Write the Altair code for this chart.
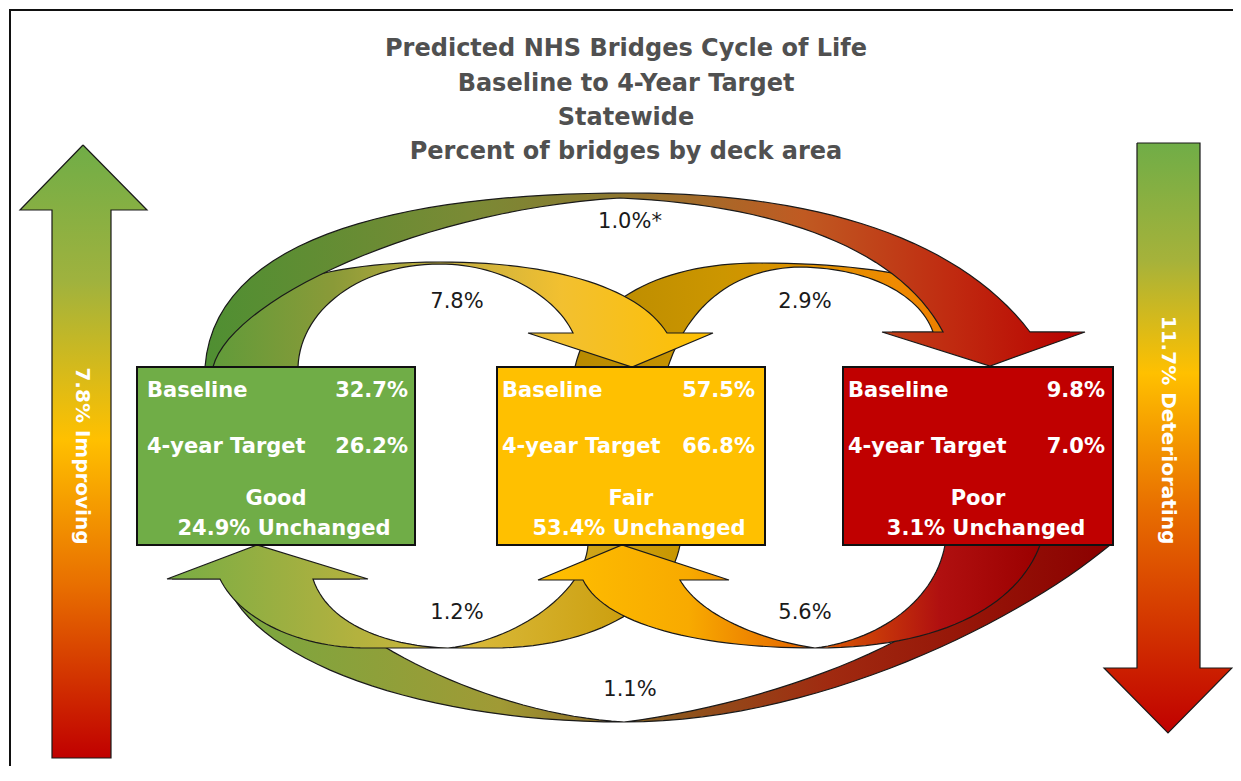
import altair as alt
import pandas as pd

# ---------------- data ----------------
title_lines = ["Predicted NHS Bridges Cycle of Life", "Baseline to 4-Year Target",
               "Statewide", "Percent of bridges by deck area"]
categories = ["Good", "Fair", "Poor"]
baseline_pct = [32.7, 57.5, 9.8]
target_pct = [26.2, 66.8, 7.0]
unchanged_pct = [24.9, 53.4, 3.1]
flow_from = ["Good", "Fair", "Good", "Fair", "Poor", "Poor"]
flow_to = ["Fair", "Poor", "Poor", "Good", "Fair", "Good"]
flow_pct = [7.8, 2.9, 1.0, 1.2, 5.6, 1.1]
flow_note = ["", "", "*", "", "", ""]
improving_pct = 7.8
deteriorating_pct = 11.7

# ---------------- layout (diagram geometry, reference pixel space) ----------------
cat_colors = ["#70ad47", "#ffc000", "#c00000"]
box_x0 = [137, 497, 843]
box_x1 = [415, 765, 1113]
box_top, box_bot = 367, 545
text_pad_l = [10, 5, 5]
text_pad_r = [7, 10, 8]
title_y = [49, 84, 118, 152]
flow_label_xy = [(457, 302), (805, 302), (630, 222), (457, 613), (805, 613), (630, 690)]

XD = [8, 1233]
YD = [8, 766]
X = alt.X("x:Q", scale=alt.Scale(domain=XD, nice=False, zero=False), axis=None)
Y = alt.Y("y:Q", scale=alt.Scale(domain=YD, nice=False, zero=False, reverse=True), axis=None)
FONT = "DejaVu Sans"


def bez(p0, p1, p2, p3, n=30):
    pts = []
    for k in range(n + 1):
        t = k / n
        u = 1 - t
        pts.append((u ** 3 * p0[0] + 3 * u * u * t * p1[0] + 3 * u * t * t * p2[0] + t ** 3 * p3[0],
                    u ** 3 * p0[1] + 3 * u * u * t * p1[1] + 3 * u * t * t * p2[1] + t ** 3 * p3[1]))
    return pts


def chain(segs):
    out = []
    for s in segs:
        pts = bez(*s)
        out.extend(pts if not out else pts[1:])
    return out


def grad(stops, vertical=False):
    return alt.LinearGradient(
        gradient="linear",
        stops=[alt.GradientStop(color=c, offset=o) for o, c in stops],
        x1=0, y1=0, x2=0 if vertical else 1, y2=1 if vertical else 0)


def poly(pts, fill, stroke="#1a1a1a", sw=1.2):
    pts = list(pts) + [pts[0]]
    df = pd.DataFrame({"x": [p[0] for p in pts], "y": [p[1] for p in pts], "i": list(range(len(pts)))})
    return alt.Chart(df).mark_line(filled=True, fill=fill, stroke=stroke, strokeWidth=sw,
                                   strokeJoin="miter", interpolate="linear").encode(
        x=X, y=Y, order="i:Q")


def upper_arrow(outer, inner, head):
    o = chain(outer)
    i = chain(inner)
    return o + list(head) + i[::-1]


def lower_arrow(inner, head, outer):
    return chain(inner) + list(head) + chain(outer)


shapes = {}
# 7.8% Good -> Fair (top)
shapes[0] = upper_arrow(
    [((207, 367), (212, 300), (300, 262), (440, 262)), ((440, 262), (560, 262), (640, 290), (667, 333))],
    [((298, 367), (300, 310), (360, 264), (440, 264)), ((440, 264), (500, 264), (555, 295), (573, 333))],
    [(713, 333), (632, 367), (528, 333)])
# 2.9% Fair -> Poor (top)
shapes[1] = upper_arrow(
    [((575, 367), (590, 300), (660, 263), (760, 263)), ((760, 263), (900, 263), (995, 290), (1020, 332))],
    [((668, 367), (690, 300), (740, 268), (800, 267)), ((800, 267), (870, 268), (920, 295), (933, 332))],
    [(1070, 332), (988, 364), (892, 332)])
# 1.0% Good -> Poor (top, outer)
shapes[2] = upper_arrow(
    [((205, 367), (215, 230), (420, 193), (630, 193)), ((630, 193), (820, 193), (960, 240), (1030, 332))],
    [((213, 367), (230, 300), (420, 210), (620, 198)), ((620, 198), (780, 205), (900, 250), (943, 332))],
    [(1085, 332), (990, 366), (882, 332)])
# 1.2% Fair -> Good (bottom)
shapes[3] = lower_arrow(
    [((588, 545), (585, 590), (520, 640), (448, 648)), ((448, 648), (400, 647), (330, 630), (313, 579))],
    [(368, 579), (257, 545), (167, 579)],
    [((220, 579), (240, 620), (300, 648), (367, 648)), ((367, 648), (410, 648), (450, 648), (492, 648)),
     ((492, 648), (600, 648), (670, 600), (680, 545))])
# 5.6% Poor -> Fair (bottom)
shapes[4] = lower_arrow(
    [((945, 545), (935, 600), (880, 640), (815, 648)), ((815, 648), (760, 640), (700, 615), (680, 580))],
    [(729, 580), (622, 545), (538, 580)],
    [((583, 580), (605, 625), (700, 648), (815, 648)), ((815, 648), (950, 648), (1020, 600), (1040, 545))])
# 1.1% Poor -> Good (bottom, outer)
shapes[5] = lower_arrow(
    [((1000, 545), (985, 620), (790, 702), (624, 722)), ((624, 722), (500, 715), (360, 650), (300, 579))],
    [(360, 579), (257, 547), (172, 579)],
    [((225, 579), (250, 660), (420, 722), (624, 722)), ((624, 722), (820, 722), (1020, 620), (1110, 545))])

flow_grads = {
    0: grad([(0, "#5f9b3a"), (0.25, "#8a9a38"), (0.5, "#c8b040"), (0.7, "#f2c030"), (1, "#ffc000")]),
    1: grad([(0, "#b88a00"), (0.3, "#cc9600"), (0.65, "#f08a00"), (1, "#e06000")]),
    2: grad([(0, "#4f8f32"), (0.3, "#7a8a35"), (0.45, "#8a7a30"), (0.68, "#c05a22"), (0.85, "#c02a10"), (1, "#b80000")]),
    3: grad([(0, "#78ad44"), (0.3, "#a8b040"), (0.6, "#d8b838"), (1, "#c89600")]),
    4: grad([(0, "#ffc000"), (0.3, "#f8aa00"), (0.5, "#e87000"), (0.8, "#b01010"), (1, "#9b0000")]),
    5: grad([(0, "#70aa42"), (0.35, "#a09a35"), (0.5, "#8a6020"), (0.7, "#a02a10"), (1, "#8b0000")]),
}

layers = []

# frame (left and top edges)
frame = pd.DataFrame({"x": [10, 10, 1233], "y": [766, 10, 10], "i": [0, 1, 2]})
layers.append(alt.Chart(frame).mark_line(color="#111", strokeWidth=2).encode(x=X, y=Y, order="i:Q"))

# vertical arrows
up_arrow = [(83, 145), (147, 210), (111, 210), (111, 758), (52, 758), (52, 210), (20, 210)]
down_arrow = [(1137, 143), (1200, 143), (1200, 668), (1232, 668), (1168, 733), (1104, 668), (1137, 668)]
layers.append(poly(up_arrow, grad([(0, "#70ad47"), (0.22, "#9fb23e"), (0.48, "#ffc000"),
                                    (0.72, "#e86e00"), (1, "#c00000")], vertical=True)))
layers.append(poly(down_arrow, grad([(0, "#70ad47"), (0.2, "#a6b23a"), (0.39, "#ffc000"),
                                      (0.62, "#e86e00"), (1, "#c00000")], vertical=True)))

# curved flows, back to front
for k in [5, 3, 4, 1, 0, 2]:
    layers.append(poly(shapes[k], flow_grads[k]))

# boxes
boxes = pd.DataFrame({"category": categories, "x0": box_x0, "x1": box_x1,
                      "y0": [box_top] * 3, "y1": [box_bot] * 3})
layers.append(alt.Chart(boxes).mark_rect(stroke="#111", strokeWidth=2).encode(
    x=alt.X("x0:Q", scale=alt.Scale(domain=XD, nice=False, zero=False), axis=None),
    x2="x1:Q",
    y=alt.Y("y0:Q", scale=alt.Scale(domain=YD, nice=False, zero=False, reverse=True), axis=None),
    y2="y1:Q",
    color=alt.Color("category:N", scale=alt.Scale(domain=categories, range=cat_colors), legend=None)))

# box texts
left_rows, right_rows, center_rows = [], [], []
for j, c in enumerate(categories):
    lx = box_x0[j] + text_pad_l[j]
    rx = box_x1[j] - text_pad_r[j]
    cx = (box_x0[j] + box_x1[j]) / 2
    left_rows += [{"x": lx, "y": 391, "t": "Baseline"}, {"x": lx, "y": 447, "t": "4-year Target"}]
    right_rows += [{"x": rx, "y": 391, "t": f"{baseline_pct[j]:.1f}%"},
                   {"x": rx, "y": 447, "t": f"{target_pct[j]:.1f}%"}]
    center_rows += [{"x": cx, "y": 499, "t": c},
                    {"x": cx + 8, "y": 529, "t": f"{unchanged_pct[j]:.1f}% Unchanged"}]

for rows, al in [(left_rows, "left"), (right_rows, "right"), (center_rows, "center")]:
    layers.append(alt.Chart(pd.DataFrame(rows)).mark_text(
        align=al, baseline="middle", font=FONT, fontSize=21, fontWeight="bold", color="white").encode(
        x=X, y=Y, text="t:N"))

# flow labels
fl = pd.DataFrame({"x": [p[0] for p in flow_label_xy], "y": [p[1] for p in flow_label_xy],
                   "t": [f"{v:.1f}%{n}" for v, n in zip(flow_pct, flow_note)]})
layers.append(alt.Chart(fl).mark_text(align="center", baseline="middle", font=FONT, fontSize=21,
                                      color="#1a1a1a").encode(x=X, y=Y, text="t:N"))

# title
tl = pd.DataFrame({"x": [626] * 4, "y": title_y, "t": title_lines})
layers.append(alt.Chart(tl).mark_text(align="center", baseline="middle", font=FONT, fontSize=24,
                                      fontWeight="bold", color="#505050").encode(x=X, y=Y, text="t:N"))

# vertical arrow labels
vl = pd.DataFrame({"x": [82, 1168], "y": [456, 430],
                   "t": [f"{improving_pct:.1f}% Improving", f"{deteriorating_pct:.1f}% Deteriorating"]})
layers.append(alt.Chart(vl).mark_text(align="center", baseline="middle", angle=90, font=FONT,
                                      fontSize=20, fontWeight="bold", color="white").encode(
    x=X, y=Y, text="t:N"))

chart = alt.layer(*layers).properties(
    width=1225, height=758, padding=0, background="white",
    autosize=alt.AutoSizeParams(type="none")
).configure_view(stroke=None)

chart.save("out.html", embed_options={"renderer": "svg", "actions": False})
